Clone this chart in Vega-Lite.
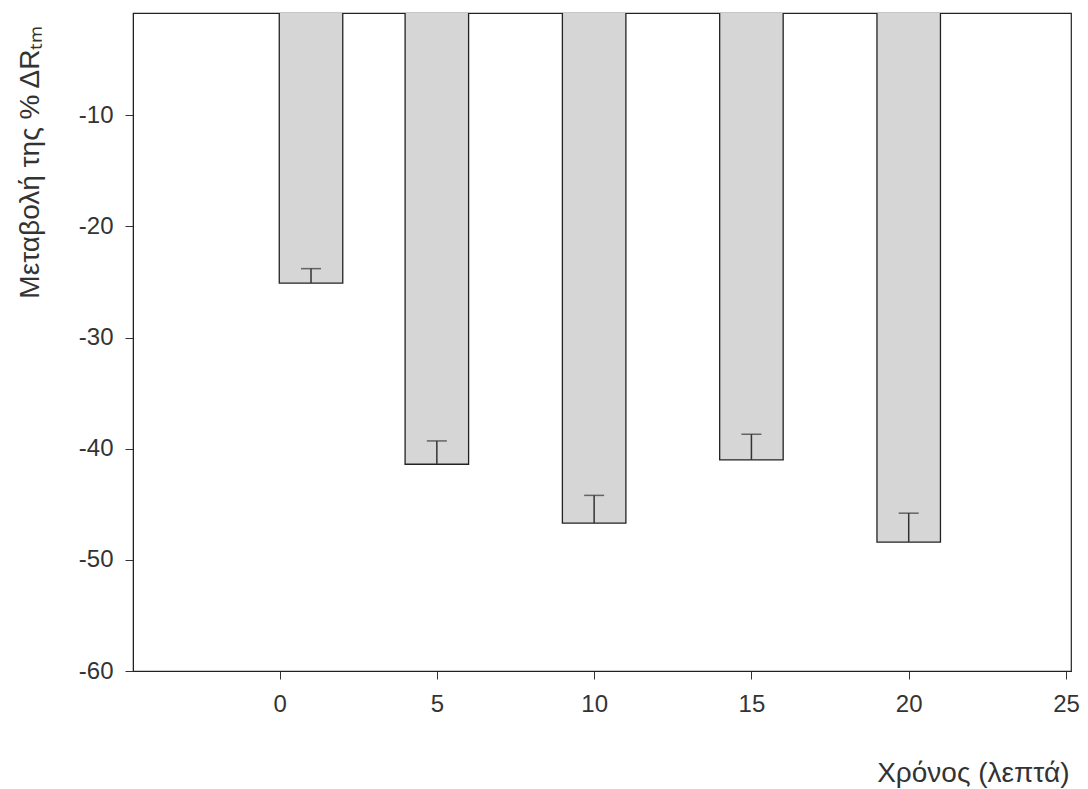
{
  "$schema": "https://vega.github.io/schema/vega-lite/v6.json",
  "autosize": "none",
  "padding": {"left": 133, "top": 13, "right": 17, "bottom": 118},
  "width": 938,
  "height": 658,
  "background": "white",
  "config": {
    "view": {"stroke": "#222", "strokeWidth": 1.2},
    "font": "Liberation Sans",
    "axis": {
      "labelFont": "Liberation Sans",
      "titleFont": "Liberation Sans",
      "labelColor": "#333",
      "titleColor": "#333",
      "titleFontWeight": "normal",
      "domainColor": "#222",
      "tickColor": "#333",
      "grid": false
    }
  },
  "data": {
    "values": [
      {"t": 1, "value": -25.1, "err": -23.8},
      {"t": 5, "value": -41.4, "err": -39.3},
      {"t": 10, "value": -46.7, "err": -44.2},
      {"t": 15, "value": -41.0, "err": -38.7},
      {"t": 20, "value": -48.4, "err": -45.8}
    ]
  },
  "layer": [
    {
      "mark": {"type": "bar", "width": 63.5, "fill": "#d6d6d6", "stroke": "#222", "strokeWidth": 1.3, "clip": true},
      "encoding": {
        "x": {
          "field": "t", "type": "quantitative",
          "scale": {"domain": [-4.5, 25], "nice": false, "zero": false},
          "axis": {
            "values": [0, 5, 10, 15, 20, 25],
            "title": "Χρόνος (λεπτά)",
            "labelFontSize": 24,
            "titleFontSize": 28,
            "tickSize": 8,
            "labelPadding": 13,
            "titleAnchor": "end",
            "titleAlign": "right",
            "titleX": 936,
            "titleY": 102,
            "titleBaseline": "middle"
          }
        },
        "y": {
          "field": "value", "type": "quantitative",
          "scale": {"domain": [-60, -0.8], "nice": false, "zero": false},
          "axis": {
            "values": [-60, -50, -40, -30, -20, -10],
            "labelExpr": "replace(datum.label, '−', '-')",
            "title": "Μεταβολή της % ΔRₜₘ",
            "labelFontSize": 24,
            "titleFontSize": 28,
            "tickSize": 8,
            "labelPadding": 12,
            "titleAnchor": "end",
            "titleAngle": -90,
            "titleAlign": "right",
            "titleX": -103,
            "titleY": 12,
            "titleBaseline": "middle"
          }
        },
        "y2": {"datum": 0}
      }
    },
    {
      "mark": {"type": "rule", "stroke": "#333", "strokeWidth": 1.5},
      "encoding": {
        "x": {"field": "t", "type": "quantitative"},
        "y": {"field": "value", "type": "quantitative"},
        "y2": {"field": "err"}
      }
    },
    {
      "mark": {"type": "tick", "orient": "horizontal", "size": 20, "thickness": 1.5, "color": "#333"},
      "encoding": {
        "x": {"field": "t", "type": "quantitative"},
        "y": {"field": "err", "type": "quantitative"}
      }
    }
  ]
}
